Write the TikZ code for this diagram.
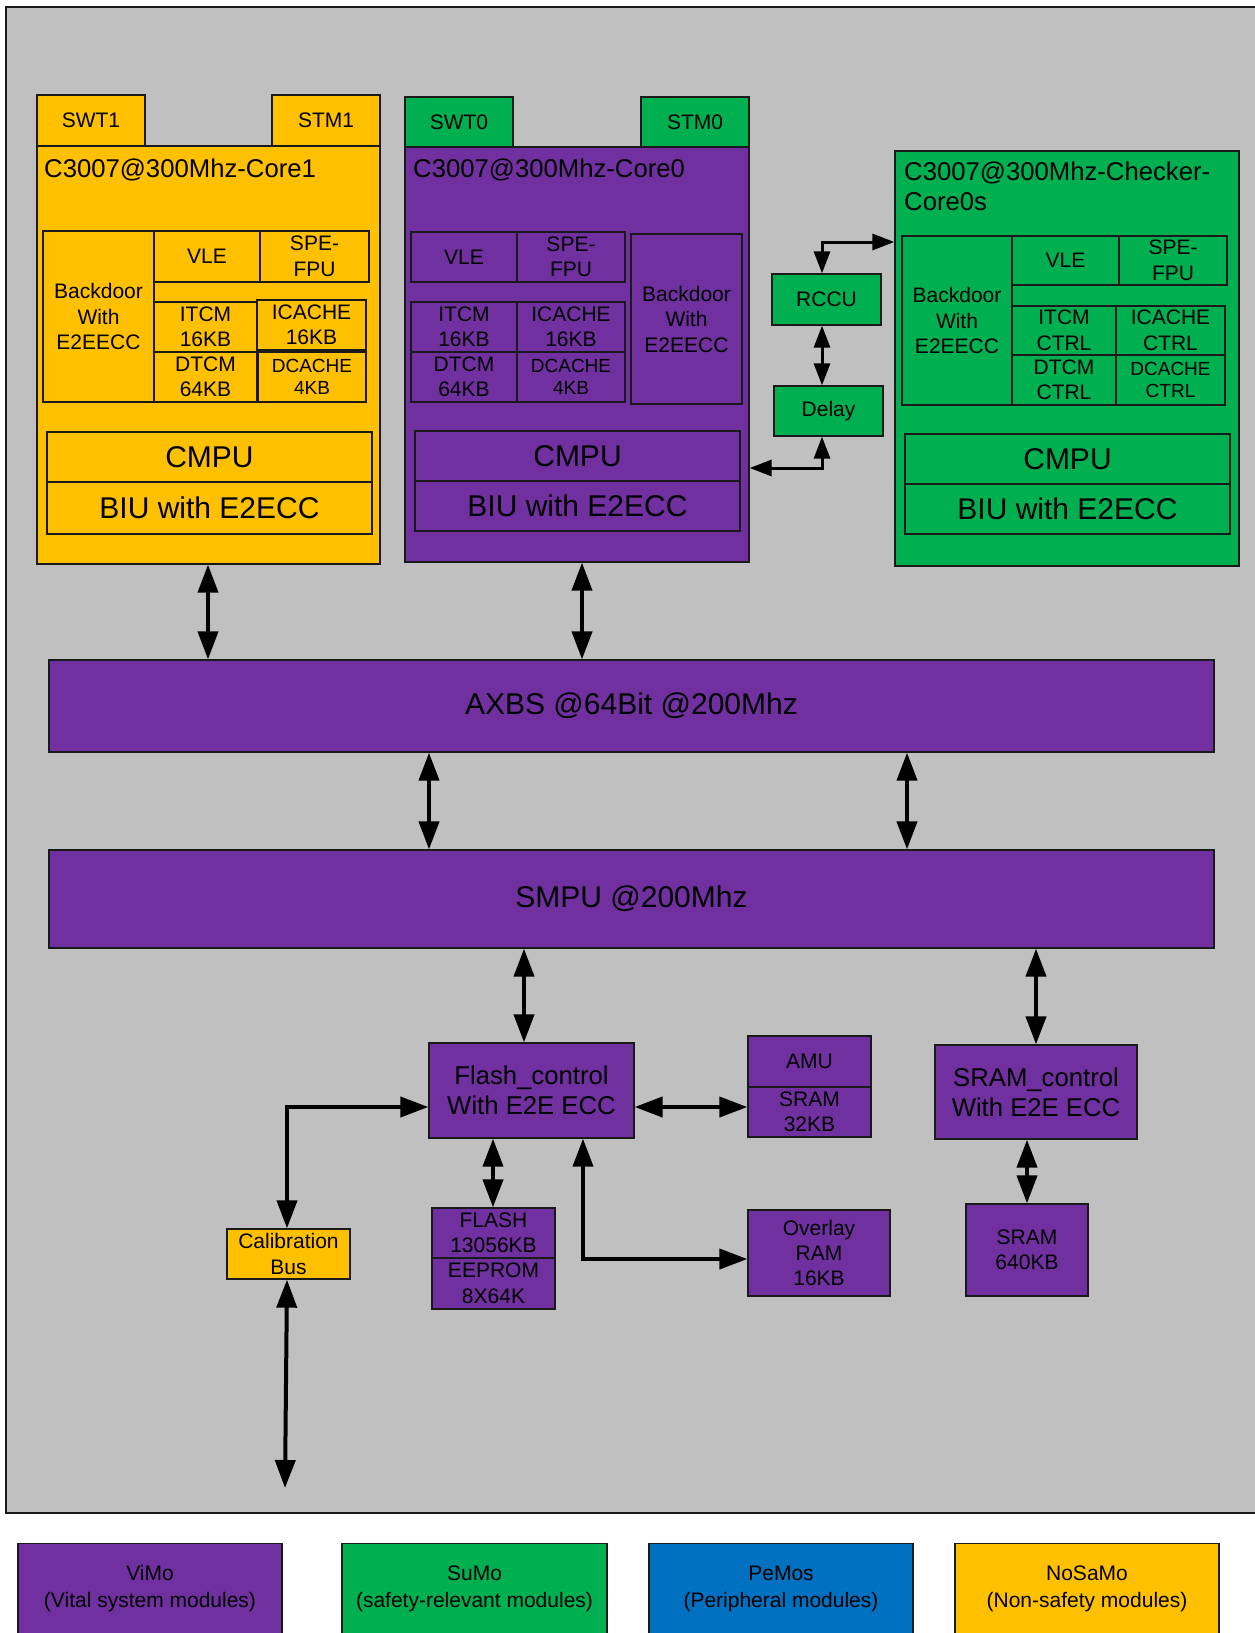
\documentclass[tikz,border=0pt]{standalone}
\usepackage{fontspec}
\setmainfont{Liberation Sans}
\usetikzlibrary{arrows.meta}
\definecolor{vimo}{HTML}{7030A0}
\definecolor{sumo}{HTML}{00B050}
\definecolor{pemo}{HTML}{0070C0}
\definecolor{nosa}{HTML}{FFC000}
\definecolor{bgc}{HTML}{C0C0C0}
\definecolor{edge}{HTML}{1A1A1A}
\newcommand\myfs[2]{\fontsize{#1}{#2}\selectfont}
\tikzset{
  box/.style={draw=edge, line width=1.3pt, inner sep=0pt, align=center, font=\myfs{21}{25.5}},
  sz/.style 2 args={minimum width=#1pt, minimum height=#2pt},
  fsmall/.style={font=\myfs{19}{22.5}},
  fmid/.style={font=\myfs{25.7}{30}},
  fbig/.style={font=\myfs{30}{36}},
  ttl/.style={inner sep=0pt, anchor=base west, align=left, font=\myfs{25.7}{29.5}},
  bigarr/.style={line width=4pt, draw=black, {Triangle[length=28pt,width=20pt]}-{Triangle[length=28pt,width=20pt]}},
  smlarr/.style={line width=3pt, draw=black, {Triangle[length=22pt,width=16pt]}-{Triangle[length=22pt,width=16pt]}},
}
\begin{document}
\begin{tikzpicture}[x=1pt,y=-1pt]
\useasboundingbox (0,0) rectangle (1255,1633);
% background
\path[fill=bgc, draw=edge, line width=1.5pt] (6,7) rectangle (1275,1513);

% ---------- Core1 (orange) ----------
\node[box, fill=nosa, sz={108}{51}] (swt1) at (91,120.5) {SWT1};
\node[box, fill=nosa, sz={108}{51}] (stm1) at (326,120.5) {STM1};
\node[box, fill=nosa, sz={343}{418}] (core1) at (208.5,355) {};
\node[ttl] (t1) at (44,177) {C3007@300Mhz-Core1};
\node[box, fill=nosa, sz={111}{171}] (bd1) at (98.5,316.5) {Backdoor\\With\\E2EECC};
\node[box, fill=nosa, sz={106}{51}] (vle1) at (207,256.5) {VLE};
\node[box, fill=nosa, sz={109}{51}] (spe1) at (314.5,256.5) {SPE-\\FPU};
\node[box, fill=nosa, sz={103}{50}] (itcm1) at (205.5,327) {ITCM\\16KB};
\node[box, fill=nosa, sz={109}{50}] (icache1) at (311.5,325) {ICACHE\\16KB};
\node[box, fill=nosa, sz={103}{50}] (dtcm1) at (205.5,377) {DTCM\\64KB};
\node[box, fill=nosa, fsmall, sz={108}{50}] (dcache1) at (312,377) {DCACHE\\4KB};
\node[box, fill=nosa, fbig, sz={325}{50}] (cmpu1) at (209.5,457) {CMPU};
\node[box, fill=nosa, fbig, sz={325}{52}] (biu1) at (209.5,508) {BIU with E2ECC};

% ---------- Core0 (purple) ----------
\node[box, fill=sumo, sz={108}{50}] (swt0) at (459,122) {SWT0};
\node[box, fill=sumo, sz={108}{50}] (stm0) at (695,122) {STM0};
\node[box, fill=vimo, sz={344}{415}] (core0) at (577,354.5) {};
\node[ttl] (t0) at (413,177) {C3007@300Mhz-Core0};
\node[box, fill=vimo, sz={106}{50}] (vle0) at (464,257) {VLE};
\node[box, fill=vimo, sz={108}{50}] (spe0) at (571,257) {SPE-\\FPU};
\node[box, fill=vimo, sz={106}{50}] (itcm0) at (464,327) {ITCM\\16KB};
\node[box, fill=vimo, sz={108}{50}] (icache0) at (571,327) {ICACHE\\16KB};
\node[box, fill=vimo, sz={106}{50}] (dtcm0) at (464,377) {DTCM\\64KB};
\node[box, fill=vimo, fsmall, sz={108}{50}] (dcache0) at (571,377) {DCACHE\\4KB};
\node[box, fill=vimo, sz={111}{170}] (bd0) at (686.5,319) {Backdoor\\With\\E2EECC};
\node[box, fill=vimo, fbig, sz={325}{50}] (cmpu0) at (577.5,456) {CMPU};
\node[box, fill=vimo, fbig, sz={325}{50}] (biu0) at (577.5,506) {BIU with E2ECC};

% ---------- RCCU / Delay ----------
\node[box, fill=sumo, sz={109}{51}] (rccu) at (826.5,299.5) {RCCU};
\node[box, fill=sumo, sz={109}{50}] (delay) at (828.5,411) {Delay};

% ---------- Checker core (green) ----------
\node[box, fill=sumo, sz={344}{415}] (chk) at (1067,358.5) {};
\node[ttl] (tc) at (904,210) {C3007@300Mhz-Checker-\\Core0s};
\node[box, fill=sumo, sz={110}{169}] (bdc) at (957,320.5) {Backdoor\\With\\E2EECC};
\node[box, fill=sumo, sz={107}{49}] (vlec) at (1065.5,260.5) {VLE};
\node[box, fill=sumo, sz={108}{49}] (spec) at (1173,260.5) {SPE-\\FPU};
\node[box, fill=sumo, sz={104}{49}] (itcmc) at (1064,330.5) {ITCM\\CTRL};
\node[box, fill=sumo, sz={109}{49}] (icachec) at (1170.5,330.5) {ICACHE\\CTRL};
\node[box, fill=sumo, sz={104}{50}] (dtcmc) at (1064,380) {DTCM\\CTRL};
\node[box, fill=sumo, fsmall, sz={109}{50}] (dcachec) at (1170.5,380) {DCACHE\\CTRL};
\node[box, fill=sumo, fbig, sz={325}{50}] (cmpuc) at (1067.5,459) {CMPU};
\node[box, fill=sumo, fbig, sz={325}{50}] (biuc) at (1067.5,509) {BIU with E2ECC};

% ---------- Buses ----------
\node[box, fill=vimo, fbig, sz={1165}{92}] (axbs) at (631.5,706) {AXBS @64Bit @200Mhz};
\node[box, fill=vimo, fbig, sz={1165}{98}] (smpu) at (631.5,899) {SMPU @200Mhz};

% ---------- Memory subsystem ----------
\node[box, fill=vimo, fmid, sz={205}{95}] (flash) at (531.5,1090.5) {Flash\_control\\With E2E ECC};
\node[box, fill=vimo, sz={123}{51}] (amu) at (809.5,1061.5) {AMU};
\node[box, fill=vimo, sz={123}{50}] (sram32) at (809.5,1112) {SRAM\\32KB};
\node[box, fill=vimo, sz={123}{50}] (flmem) at (493.5,1233) {FLASH\\13056KB};
\node[box, fill=vimo, sz={123}{51}] (eeprom) at (493.5,1283.5) {EEPROM\\8X64K};
\node[box, fill=vimo, sz={142}{86}, font=\myfs{21}{25}] (ovl) at (819,1253) {Overlay\\RAM\\16KB};
\node[box, fill=nosa, sz={123}{50}] (cal) at (288.5,1254) {Calibration\\Bus};
\node[box, fill=vimo, fmid, sz={202}{94}] (sramc) at (1036,1092) {SRAM\_control\\With E2E ECC};
\node[box, fill=vimo, sz={122}{92}] (sram640) at (1027,1250) {SRAM\\640KB};

% ---------- Legend ----------
\node[box, fill=vimo, sz={264}{110}, anchor=north] (lvimo) at (150,1543) {};
\node[inner sep=0pt, align=center, font=\myfs{21}{27}] (lvimot) at (150,1589) {ViMo\\(Vital system modules)};
\node[box, fill=sumo, sz={265}{110}, anchor=north] (lsumo) at (474.5,1543) {};
\node[inner sep=0pt, align=center, font=\myfs{21}{27}] (lsumot) at (474.5,1589) {SuMo\\(safety-relevant modules)};
\node[box, fill=pemo, sz={264}{110}, anchor=north] (lpemo) at (781,1543) {};
\node[inner sep=0pt, align=center, font=\myfs{21}{27}] (lpemot) at (781,1589) {PeMos\\(Peripheral modules)};
\node[box, fill=nosa, sz={264}{110}, anchor=north] (lnosa) at (1087,1543) {};
\node[inner sep=0pt, align=center, font=\myfs{21}{27}] (lnosat) at (1087,1589) {NoSaMo\\(Non-safety modules)};

% ---------- helper coordinates ----------
\coordinate (xc1) at (208,0);
\coordinate (xc0) at (582,0);
\coordinate (xa1) at (429,0);
\coordinate (xa2) at (907,0);
\coordinate (xs1) at (524,0);
\coordinate (xs2) at (1036,0);
\coordinate (xr) at (822,0);
\coordinate (yr) at (0,242);
\coordinate (yd) at (0,468);
\coordinate (xcal) at (287,0);
\coordinate (yfl) at (0,1107);
\coordinate (xfl) at (493,0);
\coordinate (xov) at (583,0);
\coordinate (yov) at (0,1259);
\coordinate (xsr) at (1027,0);
\coordinate (calend) at (285,1488);

% ---------- Connectors ----------
\draw[bigarr] (core1.south -| xc1) -- (axbs.north -| xc1);
\draw[bigarr] (core0.south -| xc0) -- (axbs.north -| xc0);
\draw[bigarr] (axbs.south -| xa1) -- (smpu.north -| xa1);
\draw[bigarr] (axbs.south -| xa2) -- (smpu.north -| xa2);
\draw[bigarr] (smpu.south -| xs1) -- (flash.north -| xs1);
\draw[bigarr] (smpu.south -| xs2) -- (sramc.north -| xs2);

\draw[smlarr] (rccu.north -| xr) -- (xr |- yr) -- (chk.west |- yr);
\draw[smlarr] (rccu.south -| xr) -- (delay.north -| xr);
\draw[smlarr] (delay.south -| xr) -- (xr |- yd) -- (core0.east |- yd);

\draw[bigarr] (cal.north -| xcal) -- (xcal |- yfl) -- (flash.west |- yfl);
\draw[bigarr] (flash.east |- yfl) -- (sram32.west |- yfl);
\draw[bigarr] (flash.south -| xfl) -- (flmem.north -| xfl);
\draw[bigarr] (flash.south -| xov) -- (xov |- yov) -- (ovl.west |- yov);
\draw[bigarr] (sramc.south -| xsr) -- (sram640.north -| xsr);
\draw[bigarr] (cal.south -| xcal) -- (calend);
\end{tikzpicture}
\end{document}
